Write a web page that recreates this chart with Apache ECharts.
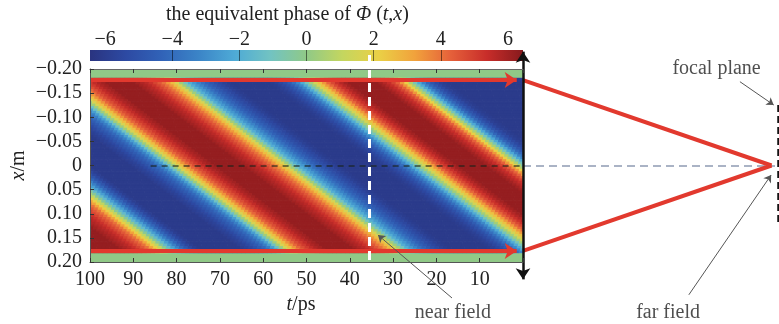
<!DOCTYPE html>
<html>
<head>
<meta charset="UTF-8">
<title>equivalent phase</title>
<script src="https://cdn.jsdelivr.net/npm/echarts@6.0.0/dist/echarts.min.js"></script>
<style>
    html, body { margin: 0; padding: 0; background: #fff; }
    #main { width: 779px; height: 324px; }
</style>
</head>
<body>
<div id="main"></div>
<script>
    // ---- values ----
    var phaseTicks = [-6, -4, -2, 0, 2, 4, 6];
    var phaseLines = [-4, -2, 0, 2, 4];           // dark marks inside the colour bar
    var phaseMin = -6.45, phaseMax = 6.45;
    var phaseColors = ['#2a3480', '#2d4aa3', '#3163b8', '#3b84c7', '#4eaad6', '#72c3c2', '#90c987',
                       '#c4d65f', '#ead046', '#f1a23c', '#e5603a', '#c82d2a', '#861a1d'];

    // phase read along the stripes, one value per ps of u = t + stripeSlope * x, starting at u = -28
    var phaseStartU = -28;
    var phaseProfile = [
        -5.6, -5.8, -5.9, -6.0, -6.1, -6.1, -6.1, -6.1, -6.1, -6.1,
        -6.1, -6.1, -6.1, -6.1, -6.1, -6.1, -6.1, -6.1, -6.1, -6.1,
        -6.1, -6.0, -5.8, -5.4, -4.9, -4.2, -3.3, -2.2, -0.9, 0.6,
        2.1, 3.4, 4.3, 4.9, 5.4, 5.7, 6.0, 6.2, 6.2, 6.2,
        6.2, 6.2, 6.2, 6.2, 6.0, 5.7, 5.3, 4.8, 4.2, 3.4,
        2.5, 1.5, 0.4, -0.9, -2.1, -3.1, -3.9, -4.6, -5.1, -5.5,
        -5.8, -6.0, -6.1, -6.1, -6.1, -6.1, -6.1, -6.1, -6.1, -6.1,
        -6.1, -6.0, -5.8, -5.5, -5.2, -4.8, -4.4, -3.9, -3.3, -2.7,
        -2.0, -1.0, 0.3, 1.6, 2.6, 3.4, 4.0, 4.5, 4.9, 5.3,
        5.6, 5.8, 6.0, 6.2, 6.2, 6.2, 6.2, 6.2, 6.2, 6.2,
        6.0, 5.8, 5.5, 5.1, 4.7, 4.2, 3.5, 2.6, 1.6, 0.3,
        -1.2, -2.5, -3.4, -4.1, -4.6, -5.0, -5.4, -5.7, -5.9, -6.1,
        -6.1, -6.1, -6.1, -6.1, -6.1, -6.1, -6.1, -6.1, -6.1, -5.9,
        -5.5, -4.9, -4.2, -3.4, -2.5, -1.5, -0.3, 1.0, 2.2, 3.2,
        4.0, 4.5, 4.9, 5.3, 5.6, 5.8, 6.0, 6.2, 6.2, 6.2,
        6.2, 6.2, 6.2, 6.2, 6.2, 6.2, 6.2
    ];
    var stripeSlope = 147;     // ps per metre, stripes follow t + 147 x = const
    var apertureX = 0.1825;    // half width of the striped band (m)
    var rowStepX = 0.005;
    var bandPhase = 0;         // the green strips outside the aperture

    // schematic: beams, lens at t = 0, focus, markers (t in ps, x in m)
    var beamX = [-0.177, 0.177];
    var lensT = 0;
    var focusT = -57.4;
    var focalPlaneT = -58.7;
    var nearFieldT = 35.6;
    var notes = [
        { name: 'near field', value: [16.2, 0.3045] },
        { name: 'far field', value: [-33.5, 0.3045] },
        { name: 'focal plane', value: [-44.7, -0.2014] }
    ];
    var leaders = [
        [[16.4, 0.2746], [33.5, 0.144]],
        [[-38.3, 0.268], [-57.3, 0.0197]],
        [[-50.1, -0.1737], [-57.9, -0.1254]]
    ];

    // ---- build the heat cells ----
    var heatCells = [];
    for (var r = -36; r <= 36; r++) {
        var x = r * rowStepX;
        for (var i = 0; i < phaseProfile.length; i++) {
            var t = phaseStartU + i - stripeSlope * x;
            if (t < -0.6 || t > 100.6) continue;
            heatCells.push([t - 0.5, t + 0.5, x - rowStepX / 2, x + rowStepX / 2, phaseProfile[i]]);
        }
    }
    heatCells.push([0, 100, -0.2, -apertureX, bandPhase]);
    heatCells.push([0, 100, apertureX, 0.2, bandPhase]);

    var serif = '"Liberation Serif", "Times New Roman", "DejaVu Serif", serif';
    var ink = '#222';
    var italic = { fontStyle: 'italic', fontFamily: serif, fontSize: 20, color: ink };
    function minus(v) { return String(v).replace('-', '\u2212'); }

    function renderCell(params, api) {
        var p0 = api.coord([api.value(0), api.value(2)]);
        var p1 = api.coord([api.value(1), api.value(3)]);
        var cs = params.coordSys;
        var rect = echarts.graphic.clipRectByRect({
            x: Math.min(p0[0], p1[0]) - 0.35, y: Math.min(p0[1], p1[1]) - 0.35,
            width: Math.abs(p1[0] - p0[0]) + 0.7, height: Math.abs(p1[1] - p0[1]) + 0.7
        }, { x: cs.x, y: cs.y, width: cs.width, height: cs.height });
        if (!rect) return;
        return { type: 'rect', shape: rect, style: { fill: api.visual('color') } };
    }

    function renderColorbar(params, api) {
        var a = api.coord([api.value(0), 0]);
        var b = api.coord([api.value(1), 1]);
        var stops = phaseColors.map(function (c, k) {
            return { offset: k / (phaseColors.length - 1), color: c };
        });
        return {
            type: 'rect',
            shape: { x: a[0], y: b[1], width: b[0] - a[0], height: a[1] - b[1] },
            style: { fill: new echarts.graphic.LinearGradient(0, 0, 1, 0, stops) }
        };
    }

    function line(coords, extra) {
        var o = { coords: coords };
        for (var k in extra) o[k] = extra[k];
        return o;
    }

    var myChart = echarts.init(document.getElementById('main'));
    var option = {
        animation: false,
        backgroundColor: '#fff',
        textStyle: { fontFamily: serif },
        title: {
            text: 'the equivalent phase of {i|\u03A6} ({i|t},{i|x})',
            left: 161, top: 0,
            textStyle: { fontFamily: serif, fontSize: 20, fontWeight: 'normal', color: ink, rich: { i: italic } }
        },
        grid: [
            { left: 90, right: 256, top: 69, bottom: 62, outerBoundsMode: 'none' },
            { left: 90, right: 256, top: 50, height: 11, outerBoundsMode: 'none' }
        ],
        visualMap: {
            type: 'continuous', show: false, seriesIndex: 0, dimension: 4,
            min: phaseMin, max: phaseMax, inRange: { color: phaseColors }
        },
        xAxis: [
            {
                gridIndex: 0, type: 'value', min: 0, max: 100, interval: 10, inverse: true, position: 'bottom', z: 10,
                axisLine: { show: true, onZero: false, lineStyle: { color: '#555', width: 1 } },
                axisTick: { inside: true, length: 4, lineStyle: { color: '#333' } },
                axisLabel: {
                    margin: 8, fontFamily: serif, fontSize: 20, color: ink,
                    formatter: function (v) { return v === 0 ? '' : String(v); }
                },
                splitLine: { show: false },
                name: '{i|t}/ps', nameLocation: 'middle', nameGap: 33, nameMoveOverlap: false,
                nameTextStyle: { fontFamily: serif, fontSize: 20, color: ink, padding: [0, 11, 0, 0], rich: { i: italic } }
            },
            {
                gridIndex: 0, type: 'value', min: 0, max: 100, interval: 10, inverse: true, position: 'top', z: 10,
                axisLine: { show: true, onZero: false, lineStyle: { color: '#666', width: 1 } },
                axisTick: { inside: true, length: 4, lineStyle: { color: '#333' } },
                axisLabel: { show: false },
                splitLine: { show: false }
            },
            {
                gridIndex: 1, type: 'value', min: phaseMin, max: phaseMax, position: 'top', z: 10,
                axisLine: { show: false, onZero: false },
                axisTick: { inside: true, length: 11, customValues: phaseLines, lineStyle: { color: 'rgba(0,0,0,0.5)', width: 1 } },
                axisLabel: { margin: 0, fontFamily: serif, fontSize: 20, color: ink, customValues: phaseTicks, formatter: minus },
                splitLine: { show: false }
            }
        ],
        yAxis: [
            {
                gridIndex: 0, type: 'value', min: -0.2, max: 0.2, interval: 0.05, inverse: true, z: 10,
                axisLine: { show: true, onZero: false, lineStyle: { color: '#555', width: 1 } },
                axisTick: { inside: true, length: 4, lineStyle: { color: '#333' } },
                axisLabel: {
                    margin: 8, fontFamily: serif, fontSize: 20, color: ink,
                    formatter: function (v) { return Math.abs(v) < 1e-9 ? '0' : minus(v.toFixed(2)); }
                },
                splitLine: { show: false },
                name: '{i|x}/m', nameLocation: 'middle', nameGap: 61, nameRotate: 90, nameMoveOverlap: false,
                nameTextStyle: { fontFamily: serif, fontSize: 20, color: ink, rich: { i: italic } }
            },
            { gridIndex: 1, type: 'value', min: 0, max: 1, show: false }
        ],
        series: [
            {
                type: 'custom', xAxisIndex: 0, yAxisIndex: 0, z: 2,
                renderItem: renderCell, data: heatCells,
                encode: { x: [0, 1], y: [2, 3] }
            },
            {
                type: 'custom', xAxisIndex: 2, yAxisIndex: 1, z: 2,
                renderItem: renderColorbar, data: [[phaseMin, phaseMax]],
                encode: { x: [0, 1] }
            },
            {   // x = 0 axis, inside the map
                type: 'lines', coordinateSystem: 'cartesian2d', xAxisIndex: 0, yAxisIndex: 0, z: 3, clip: false,
                symbol: 'none', lineStyle: { color: 'rgba(25,35,25,0.75)', width: 1.5, type: [6, 5], opacity: 1 },
                data: [line([[86, 0], [lensT, 0]], {})]
            },
            {   // x = 0 axis, outside
                type: 'lines', coordinateSystem: 'cartesian2d', xAxisIndex: 0, yAxisIndex: 0, z: 3, clip: false,
                symbol: 'none', lineStyle: { color: '#8f9ab2', width: 1.5, type: [8, 5], opacity: 1 },
                data: [line([[lensT, 0], [focalPlaneT + 0.5, 0]], {})]
            },
            {   // beams
                type: 'lines', coordinateSystem: 'cartesian2d', xAxisIndex: 0, yAxisIndex: 0, z: 4, clip: false,
                symbol: 'none', symbolSize: 12, lineStyle: { color: '#e2392e', width: 4, opacity: 1 },
                data: [
                    line([[100, beamX[0]], [lensT + 1.45, beamX[0]]], { symbol: ['none', 'arrow'] }),
                    line([[100, beamX[1]], [lensT + 1.45, beamX[1]]], { symbol: ['none', 'arrow'] }),
                    line([[lensT, beamX[0]], [focusT, 0]], {}),
                    line([[lensT, beamX[1]], [focusT, 0]], {})
                ]
            },
            {   // near-field marker
                type: 'lines', coordinateSystem: 'cartesian2d', xAxisIndex: 0, yAxisIndex: 0, z: 6, clip: false,
                symbol: 'none', lineStyle: { color: '#fff', width: 3, type: [9, 5], opacity: 1 },
                data: [line([[nearFieldT, -0.229], [nearFieldT, 0.2]], {})]
            },
            {   // lens
                type: 'lines', coordinateSystem: 'cartesian2d', xAxisIndex: 0, yAxisIndex: 0, z: 6, clip: false,
                symbol: ['arrow', 'arrow'], symbolSize: 11, lineStyle: { color: '#111', width: 2.5, opacity: 1 },
                data: [line([[lensT, -0.236], [lensT, 0.236]], {})]
            },
            {   // focal plane
                type: 'lines', coordinateSystem: 'cartesian2d', xAxisIndex: 0, yAxisIndex: 0, z: 6, clip: false,
                symbol: 'none', lineStyle: { color: '#111', width: 3.5, type: [7, 4], opacity: 1 },
                data: [line([[focalPlaneT - 0.4, -0.1254], [focalPlaneT - 0.4, 0.1192]], {})]
            },
            {   // leader lines
                type: 'lines', coordinateSystem: 'cartesian2d', xAxisIndex: 0, yAxisIndex: 0, z: 7, clip: false,
                symbol: ['none', 'arrow'], symbolSize: 7, lineStyle: { color: '#555', width: 1, opacity: 1 },
                data: leaders.map(function (c) { return line(c, {}); })
            },
            {
                type: 'scatter', xAxisIndex: 0, yAxisIndex: 0, z: 8, clip: false,
                symbolSize: 0, itemStyle: { color: 'transparent' },
                label: { show: true, position: 'inside', formatter: '{b}', fontFamily: serif, fontSize: 20, color: ink },
                data: notes
            }
        ]
    };
    myChart.setOption(option);
</script>
</body>
</html>
